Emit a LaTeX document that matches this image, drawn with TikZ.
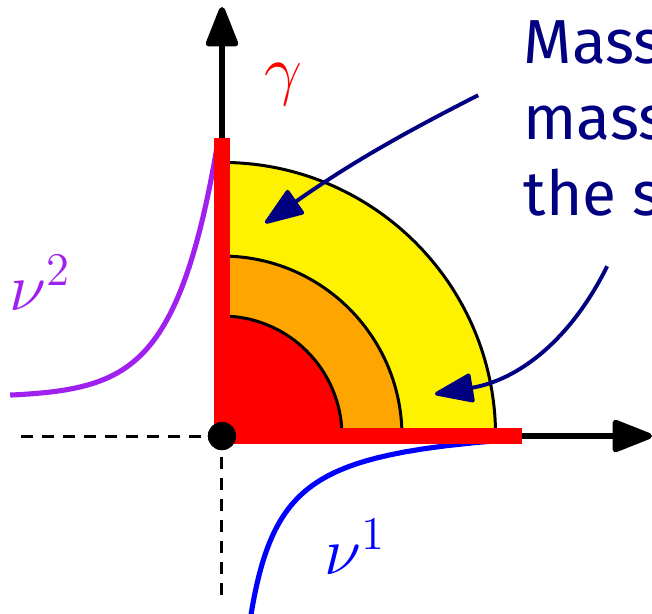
\documentclass[tikz,border=0pt]{standalone}
\usepackage{fontspec}
\setsansfont{Fira Sans}
\usetikzlibrary{arrows.meta}
\definecolor{navyblue}{RGB}{0,0,128}
\definecolor{lilac}{RGB}{160,32,240}
\definecolor{amber}{RGB}{255,165,0}

\begin{document}
\begin{tikzpicture}[
    axis/.style={line width=0.1cm,-{Triangle[length=0.75cm,width=0.56cm,round]}},
    pointer/.style={navyblue,line width=0.065cm,-{Triangle[length=0.7cm,width=0.5cm,round]}},
    rim/.style={line width=0.05cm},
    guide/.style={line width=0.05cm,dash pattern=on 0.2cm off 0.15cm},
    measure/.style={line width=0.085cm},
    lbl/.style={font=\LARGE,scale=1.85}
  ]
  \useasboundingbox (-3.7,-2.95) rectangle (7.167,7.267);
  % nested quarter discs
  \fill[yellow] (0,0) -- (4.56,0) arc (0:90:4.56) -- cycle;
  \fill[amber] (0,0) -- (3.0,0) arc (0:90:3.0) -- cycle;
  \fill[red] (0,0) -- (2.0,0) arc (0:90:2.0) -- cycle;
  \draw[rim] (4.56,0) arc (0:90:4.56);
  \draw[rim] (3.0,0) arc (0:90:3.0);
  \draw[rim] (2.0,0) arc (0:90:2.0);
  % the two marginals
  \draw[measure,lilac] plot[domain=-3.53:-0.08,samples=60] (\x,{0.65+4.68*exp(1.407*\x)});
  \draw[measure,blue] plot[domain=-3.05:-0.06,samples=60] ({1.75/(0.3-\x)-0.05},\x);
  \node[circle,fill,inner sep=0,minimum size=0.47cm] (o) at (0,0) {};
  \draw[guide] (o.center) -- (-3.37,0);
  \draw[guide] (o.center) -- (0,-2.7);
  \draw[axis] (o.center) -- (7.167,0);
  \draw[axis] (o.center) -- (0,7.15);
  % gamma on the axes
  \draw[red,line width=0.27cm,line join=miter] (0,4.97) -- (o.center) -- (5.0,0);
  \fill (o) circle (0.235);
  \node[lbl,red] (gam) at (1.02,5.85) {$\gamma$};
  \node[lbl,lilac] (nutwo) at (-3.03,2.55) {$\nu^2$};
  \node[lbl,blue] (nuone) at (2.22,-1.85) {$\nu^1$};
  \node[anchor=north west,inner sep=0,align=left,text=navyblue,
        font=\sffamily\fontsize{29.5}{36}\selectfont] (txt) at (5.02,6.93) {Mass\\mass\\the s};
  \coordinate (p1) at (4.27,5.68);
  \coordinate (q1) at (0.72,3.55);
  \coordinate (p2) at (6.42,2.83);
  \coordinate (q2) at (3.55,0.70);
  \draw[pointer] (p1) to[bend right=4] (q1);
  \draw[pointer] (p2) to[bend left=27] (q2);
\end{tikzpicture}
\end{document}
